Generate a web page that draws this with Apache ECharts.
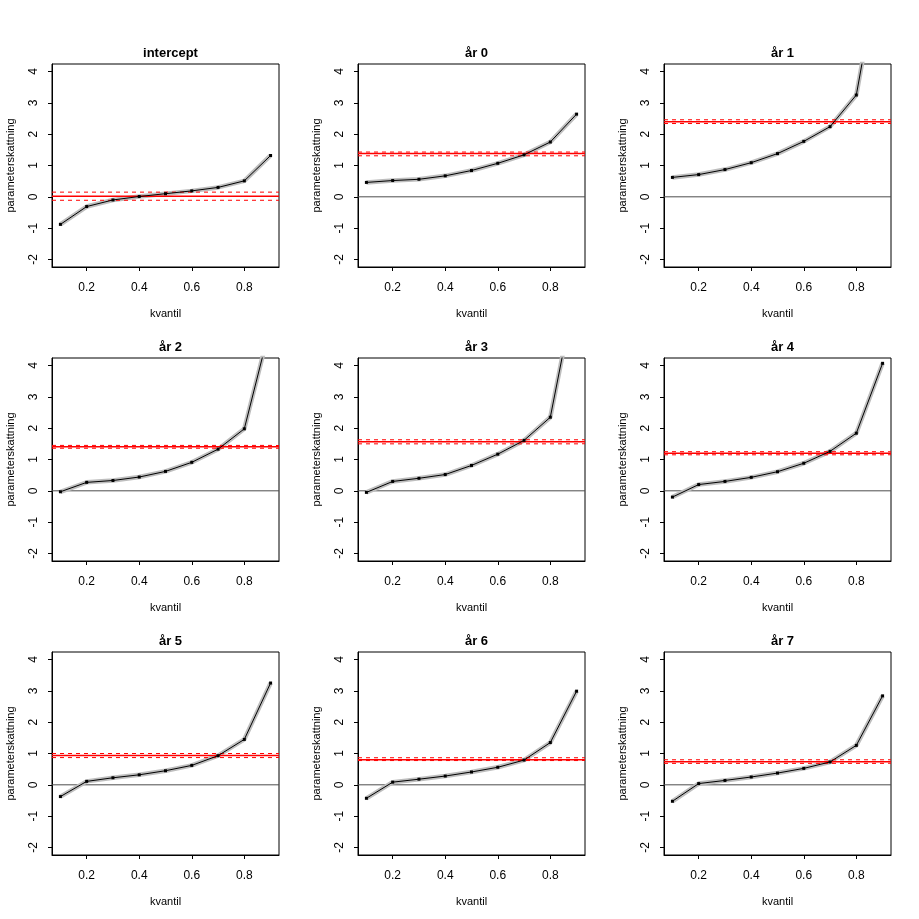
<!DOCTYPE html>
<html>
<head>
<meta charset="utf-8">
<script src="https://cdn.jsdelivr.net/npm/echarts@6/dist/echarts.min.js"></script>
<style>html,body{margin:0;padding:0;background:#fff}#c{width:919px;height:919px}</style>
</head>
<body>
<div id="c"></div>
<script>
var panelNames = ["intercept","år 0","år 1","år 2","år 3","år 4","år 5","år 6","år 7"];
var quantiles = [0.1,0.2,0.3,0.4,0.5,0.6,0.7,0.8,0.9];
var estIntercept = [-0.88,-0.31,-0.10,0.01,0.10,0.19,0.30,0.51,1.32];
var estAr0 = [0.46,0.52,0.56,0.67,0.84,1.07,1.34,1.75,2.64];
var estAr1 = [0.62,0.71,0.87,1.09,1.38,1.77,2.24,3.25,7.9];
var estAr2 = [-0.03,0.27,0.33,0.44,0.62,0.91,1.33,1.98,5.3];
var estAr3 = [-0.05,0.30,0.40,0.52,0.81,1.17,1.61,2.35,6.6];
var estAr4 = [-0.20,0.20,0.30,0.43,0.61,0.88,1.26,1.84,4.07];
var estAr5 = [-0.375,0.11,0.225,0.32,0.45,0.62,0.93,1.45,3.25];
var estAr6 = [-0.43,0.085,0.18,0.28,0.41,0.56,0.79,1.35,2.99];
var estAr7 = [-0.525,0.04,0.14,0.25,0.375,0.525,0.73,1.26,2.84];
var olsEst = [0.02,1.38,2.40,1.41,1.57,1.20,0.94,0.80,0.74];
var olsLo  = [-0.11,1.31,2.34,1.36,1.50,1.15,0.87,0.775,0.685];
var olsHi  = [0.15,1.43,2.46,1.45,1.63,1.25,1.00,0.865,0.80];
var xTicks = [0.2,0.4,0.6,0.8];
var yTicks = [-2,-1,0,1,2,3,4];
var xRange = [0.068, 0.932];
var yRange = [-2.24, 4.24];

var estimates = [estIntercept,estAr0,estAr1,estAr2,estAr3,estAr4,estAr5,estAr6,estAr7];
var colLefts = [52,358,664];
var rowTops = [64,358,652];
var gw = 227, gh = 203;
var FONT = 'Liberation Sans, Arial, sans-serif';

function hline(p, v, color, type, width, z){
  return {type:'line', xAxisIndex:p, yAxisIndex:p, data:[[xRange[0], v],[xRange[1], v]],
    showSymbol:false, silent:true, z:z, animation:false, clip:true,
    itemStyle:{color:color}, lineStyle:{color:color, type:type, width:width}};
}

var grids=[], xAxes=[], yAxes=[], series=[], titles=[];
for (var p=0;p<9;p++){
  var r=Math.floor(p/3), c=p%3;
  grids.push({left:colLefts[c], top:rowTops[r], width:gw, height:gh, show:true, borderColor:'#000', borderWidth:1, backgroundColor:'transparent'});
  titles.push({text:panelNames[p], left:colLefts[c]+gw/2, top:rowTops[r]-22, textAlign:'center',
    textStyle:{fontFamily:FONT, fontSize:13, fontWeight:'bold', color:'#000'}});
  xAxes.push({type:'value', gridIndex:p, min:xRange[0], max:xRange[1], position:'bottom',
    name:'kvantil', nameLocation:'middle', nameGap:41,
    nameTextStyle:{fontFamily:FONT, fontSize:11, color:'#000'},
    axisLine:{show:true, onZero:false, lineStyle:{color:'#000', width:1}}, splitLine:{show:false},
    axisTick:{show:true, inside:false, length:4, lineStyle:{color:'#000'}, customValues:xTicks},
    axisLabel:{fontFamily:FONT, fontSize:12, color:'#000', margin:15, customValues:xTicks,
      formatter:function(v){return String(v);}}
  });
  yAxes.push({type:'value', gridIndex:p, min:yRange[0], max:yRange[1], position:'left',
    name:'parameterskattning', nameLocation:'middle', nameGap:36, nameRotate:90,
    nameTextStyle:{fontFamily:FONT, fontSize:11, color:'#000'},
    axisLine:{show:true, onZero:false, lineStyle:{color:'#000', width:1}}, splitLine:{show:false},
    axisTick:{show:true, inside:false, length:4, lineStyle:{color:'#000'}, customValues:yTicks},
    axisLabel:{fontFamily:FONT, fontSize:12, color:'#000', margin:12, rotate:90, customValues:yTicks,
      formatter:function(v){return String(v);}}
  });
  var pts = quantiles.map(function(q,i){return [q, estimates[p][i]];});
  if (p>0) series.push(hline(p, 0, '#4d4d4d', 'solid', 1, 1));
  // gray confidence band (drawn as thick line)
  series.push({type:'line', xAxisIndex:p, yAxisIndex:p, data:pts, showSymbol:false, clip:true, z:2,
    lineStyle:{color:'#bebebe', width:4.5}, itemStyle:{color:'#bebebe'}, animation:false, silent:true});
  // OLS estimate and CI
  series.push(hline(p, olsEst[p], '#ff0000', 'solid', 1.5, 3));
  series.push(hline(p, olsLo[p], '#ff0000', [4,4], 1, 3));
  series.push(hline(p, olsHi[p], '#ff0000', [4,4], 1, 3));
  // quantile regression estimates
  series.push({type:'line', xAxisIndex:p, yAxisIndex:p, data:pts, clip:true, z:4,
    symbol:'rect', symbolSize:3, showAllSymbol:true,
    itemStyle:{color:'#000'}, lineStyle:{color:'#000', width:1}, animation:false, silent:true});
}

var chart = echarts.init(document.getElementById('c'), null, {renderer:'canvas'});
chart.setOption({
  backgroundColor:'#fff',
  animation:false,
  title:titles,
  grid:grids,
  xAxis:xAxes,
  yAxis:yAxes,
  series:series
});
</script>
</body>
</html>
